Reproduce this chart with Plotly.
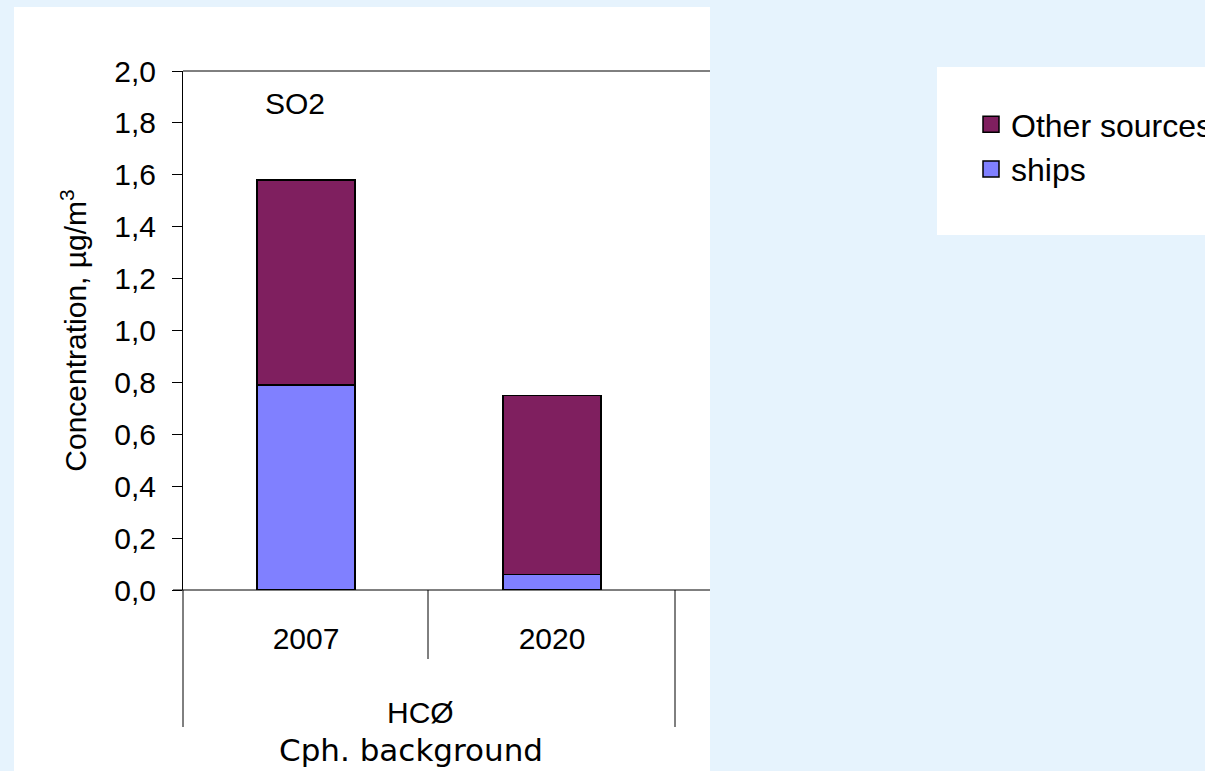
import plotly.graph_objects as go

# Data
years = ["2007", "2020"]
ships = [0.79, 0.06]
other_sources = [0.79, 0.69]
y_ticks = [0.0, 0.2, 0.4, 0.6, 0.8, 1.0, 1.2, 1.4, 1.6, 1.8, 2.0]

SHIP_COLOR = "#8080FF"
OTHER_COLOR = "#7F1F5F"
BG = "#E6F3FD"
FONT = "Liberation Sans, Arial, sans-serif"
FS = 30

W, H = 1205, 771
L, R, T, B = 183, 495, 71, 181
pw = W - L - R
ph = H - T - B


def px_x(p):
    return (p - L) / pw


def px_y(p):
    return (H - B - p) / ph


fig = go.Figure()

fig.add_trace(go.Bar(
    x=years, y=ships, name="ships", marker_color=SHIP_COLOR,
    marker_line=dict(color="black", width=1.5), width=0.4, showlegend=False,
))
fig.add_trace(go.Bar(
    x=years, y=other_sources, name="Other sources", marker_color=OTHER_COLOR,
    marker_line=dict(color="black", width=1.5), width=0.4, showlegend=False,
))

# Legend entries with larger square swatches
for name, col in [("Other sources", OTHER_COLOR), ("ships", SHIP_COLOR)]:
    fig.add_trace(go.Scatter(
        x=[None], y=[None], mode="markers", name=name, legendgroup=name,
        marker=dict(symbol="square", size=21, color=col,
                    line=dict(color="black", width=1.5)),
    ))

shapes = [
    # white chart panel
    dict(type="rect", xref="paper", yref="paper", layer="below",
         x0=px_x(14), x1=px_x(710), y0=px_y(771), y1=px_y(7),
         fillcolor="white", line_width=0),
    # white legend panel
    dict(type="rect", xref="paper", yref="paper", layer="below",
         x0=px_x(937), x1=px_x(1205), y0=px_y(235), y1=px_y(67),
         fillcolor="white", line_width=0),
    # top line at 2,0
    dict(type="line", xref="paper", yref="paper",
         x0=0, x1=px_x(710), y0=1, y1=1, line=dict(color="black", width=1)),
    # category axis line
    dict(type="line", xref="paper", yref="paper",
         x0=px_x(173), x1=px_x(710), y0=0, y1=0, line=dict(color="black", width=1)),
]
# category dividers
for xp, yb in [(183, 727), (428, 659), (675, 727)]:
    shapes.append(dict(type="line", xref="paper", yref="paper",
                       x0=px_x(xp), x1=px_x(xp), y0=0, y1=px_y(yb),
                       line=dict(color="black", width=1)))

annotations = [
    dict(text="SO2", xref="paper", yref="paper", x=px_x(295), y=px_y(103),
         xanchor="center", yanchor="middle", showarrow=False,
         font=dict(size=FS, color="black", family=FONT)),
    dict(text="HCØ", xref="paper", yref="paper", x=px_x(420), y=px_y(712),
         xanchor="center", yanchor="middle", showarrow=False,
         font=dict(size=FS, color="black", family=FONT)),
    dict(text="Cph. background", xref="paper", yref="paper", x=px_x(411), y=px_y(750),
         xanchor="center", yanchor="middle", showarrow=False,
         font=dict(size=31, color="black", family="DejaVu Sans, sans-serif")),
]

fig.update_layout(
    width=W, height=H,
    margin=dict(l=L, r=R, t=T, b=B, autoexpand=False),
    paper_bgcolor=BG, plot_bgcolor="rgba(0,0,0,0)",
    barmode="stack", bargap=0.6,
    separators=", ",
    font=dict(family=FONT, size=FS, color="black"),
    shapes=shapes, annotations=annotations,
    legend=dict(x=px_x(971), y=px_y(97), xanchor="left", yanchor="top",
                bgcolor="rgba(0,0,0,0)", traceorder="normal",
                tracegroupgap=17, font=dict(size=32, family=FONT),
                itemsizing="trace"),
    xaxis=dict(type="category", range=[-0.5, -0.5 + 527 / 246],
               showline=False, showgrid=False, zeroline=False, ticks="",
               ticklabelstandoff=28, tickfont=dict(size=FS)),
    yaxis=dict(range=[0, 2.0], tickvals=y_ticks, tickformat=".1f",
               showline=True, linecolor="black", linewidth=1,
               ticks="outside", ticklen=10, tickcolor="black",
               ticklabelstandoff=10,
               showgrid=False, zeroline=False, tickfont=dict(size=FS),
               title=dict(text="Concentration, µg/m<sup>3</sup>", standoff=18,
                          font=dict(size=FS))),
)

fig.write_html("out.html")
